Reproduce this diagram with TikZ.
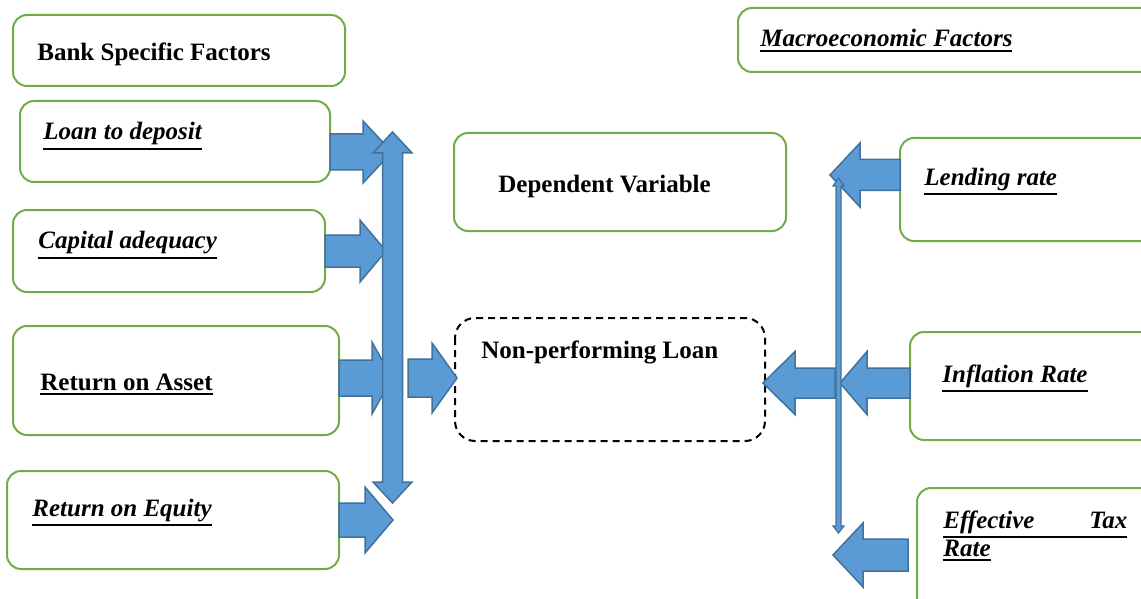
\documentclass[tikz,border=0pt]{standalone}
\usepackage{fontspec}
\setmainfont{Liberation Serif}
\usepackage{tikz}

\definecolor{boxgreen}{HTML}{70AD47}
\definecolor{arrowfill}{HTML}{5B9BD5}
\definecolor{arrowline}{HTML}{41719C}

% underline with a heavier rule
\newcommand{\undl}[1]{\leavevmode\vtop{\hbox{#1}\kern1.2pt\hrule height 1.1pt}}
% block arrow: tail x, head base x, tip x, centre y, shaft half, head half
\newcommand{\blockarrow}[6]{%
  \filldraw[blockarrow] (#1,#4-#5) -- (#2,#4-#5) -- (#2,#4-#6) -- (#3,#4)
    -- (#2,#4+#6) -- (#2,#4+#5) -- (#1,#4+#5) -- cycle;}

\begin{document}
\begin{tikzpicture}[x=0.5pt,y=-0.5pt,
    factorbox/.style ={draw=boxgreen, line width=1pt, rounded corners=7pt},
    targetbox/.style ={draw=black, line width=1pt, dashed, dash pattern=on 3.5pt off 2.5pt, rounded corners=10pt},
    factortext/.style ={anchor=base west, inner sep=0pt, font=\fontsize{12.5}{15}\selectfont\bfseries},
    blockarrow/.style ={fill=arrowfill, draw=arrowline, line width=0.75pt, line join=miter}]
   \useasboundingbox (0,0) rectangle (1141,599);
   \clip (0,0) rectangle (1141,599);
   % boxes
   \draw[factorbox] (13,15) rectangle (345,86);
   \draw[factorbox] (738,8) rectangle (1160,72);
   \draw[factorbox] (20,101) rectangle (330,182);
   \draw[factorbox] (13,210) rectangle (325,292);
   \draw[factorbox] (13,326) rectangle (339,435);
   \draw[factorbox] (7,471) rectangle (339,569);
   \draw[factorbox] (454,133) rectangle (786,231);
   \draw[targetbox] (455,318) rectangle (765,441);
   \draw[factorbox] (900,138) rectangle (1160,241);
   \draw[factorbox] (910,332) rectangle (1160,440);
   \draw[factorbox] (917,488) rectangle (1160,620);
   % texts
   \node[factortext] (bank) at (37,61) {Bank Specific Factors};
   \node[factortext] (macro) at (760,47) {\undl{\itshape Macroeconomic Factors}};
   \node[factortext] (loandep) at (43,140) {\undl{\itshape Loan to deposit}};
   \node[factortext] (capadeq) at (38,249) {\undl{\itshape Capital adequacy}};
   \node[factortext] (roa) at (40,390) {\undl{Return on Asset}};
   \node[factortext] (roe) at (32,516) {\undl{\itshape Return on Equity}};
   \node[factortext] (depvar) at (498,192) {Dependent Variable};
   \node[factortext] (npl) at (481,358) {Non-performing Loan};
   \node[factortext] (lendrate) at (924,185) {\undl{\itshape Lending rate}};
   \node[factortext] (inflrate) at (942,382) {\undl{\itshape Inflation Rate}};
   \node[factortext] (efftax) at (943,528) {\undl{\itshape\makebox[92pt][s]{Effective\hfill Tax}}};
   \node[factortext] (efftax2) at (943,556) {\undl{\itshape Rate}};
   % left arrows
   \blockarrow{330}{363}{392}{152}{18}{31}
   \blockarrow{325}{360}{386}{251}{16}{31}
   \blockarrow{339}{372}{392}{378}{18}{36}
   \blockarrow{339}{365}{393}{520}{17}{33}
   \blockarrow{408}{432}{457}{378}{19}{35}
   \filldraw[blockarrow] (392.5,132) -- (412,153) -- (402.5,153) -- (402.5,482) -- (412,482)
     -- (392.5,503) -- (373,482) -- (382.5,482) -- (382.5,153) -- (373,153) -- cycle;
   % right arrows
   \blockarrow{900}{860}{830}{175}{15.5}{32}
   \blockarrow{910}{867}{840}{383}{15}{31.5}
   \blockarrow{835}{795}{763}{383}{15}{31.5}
   \blockarrow{908}{863}{833}{555}{16}{32}
   \filldraw[blockarrow, line width=0.6pt] (838.5,178) -- (844,186) -- (841,186) -- (841,526) -- (844,526)
     -- (838.5,533) -- (833,526) -- (836,526) -- (836,186) -- (833,186) -- cycle;
 \end{tikzpicture}
\end{document}
